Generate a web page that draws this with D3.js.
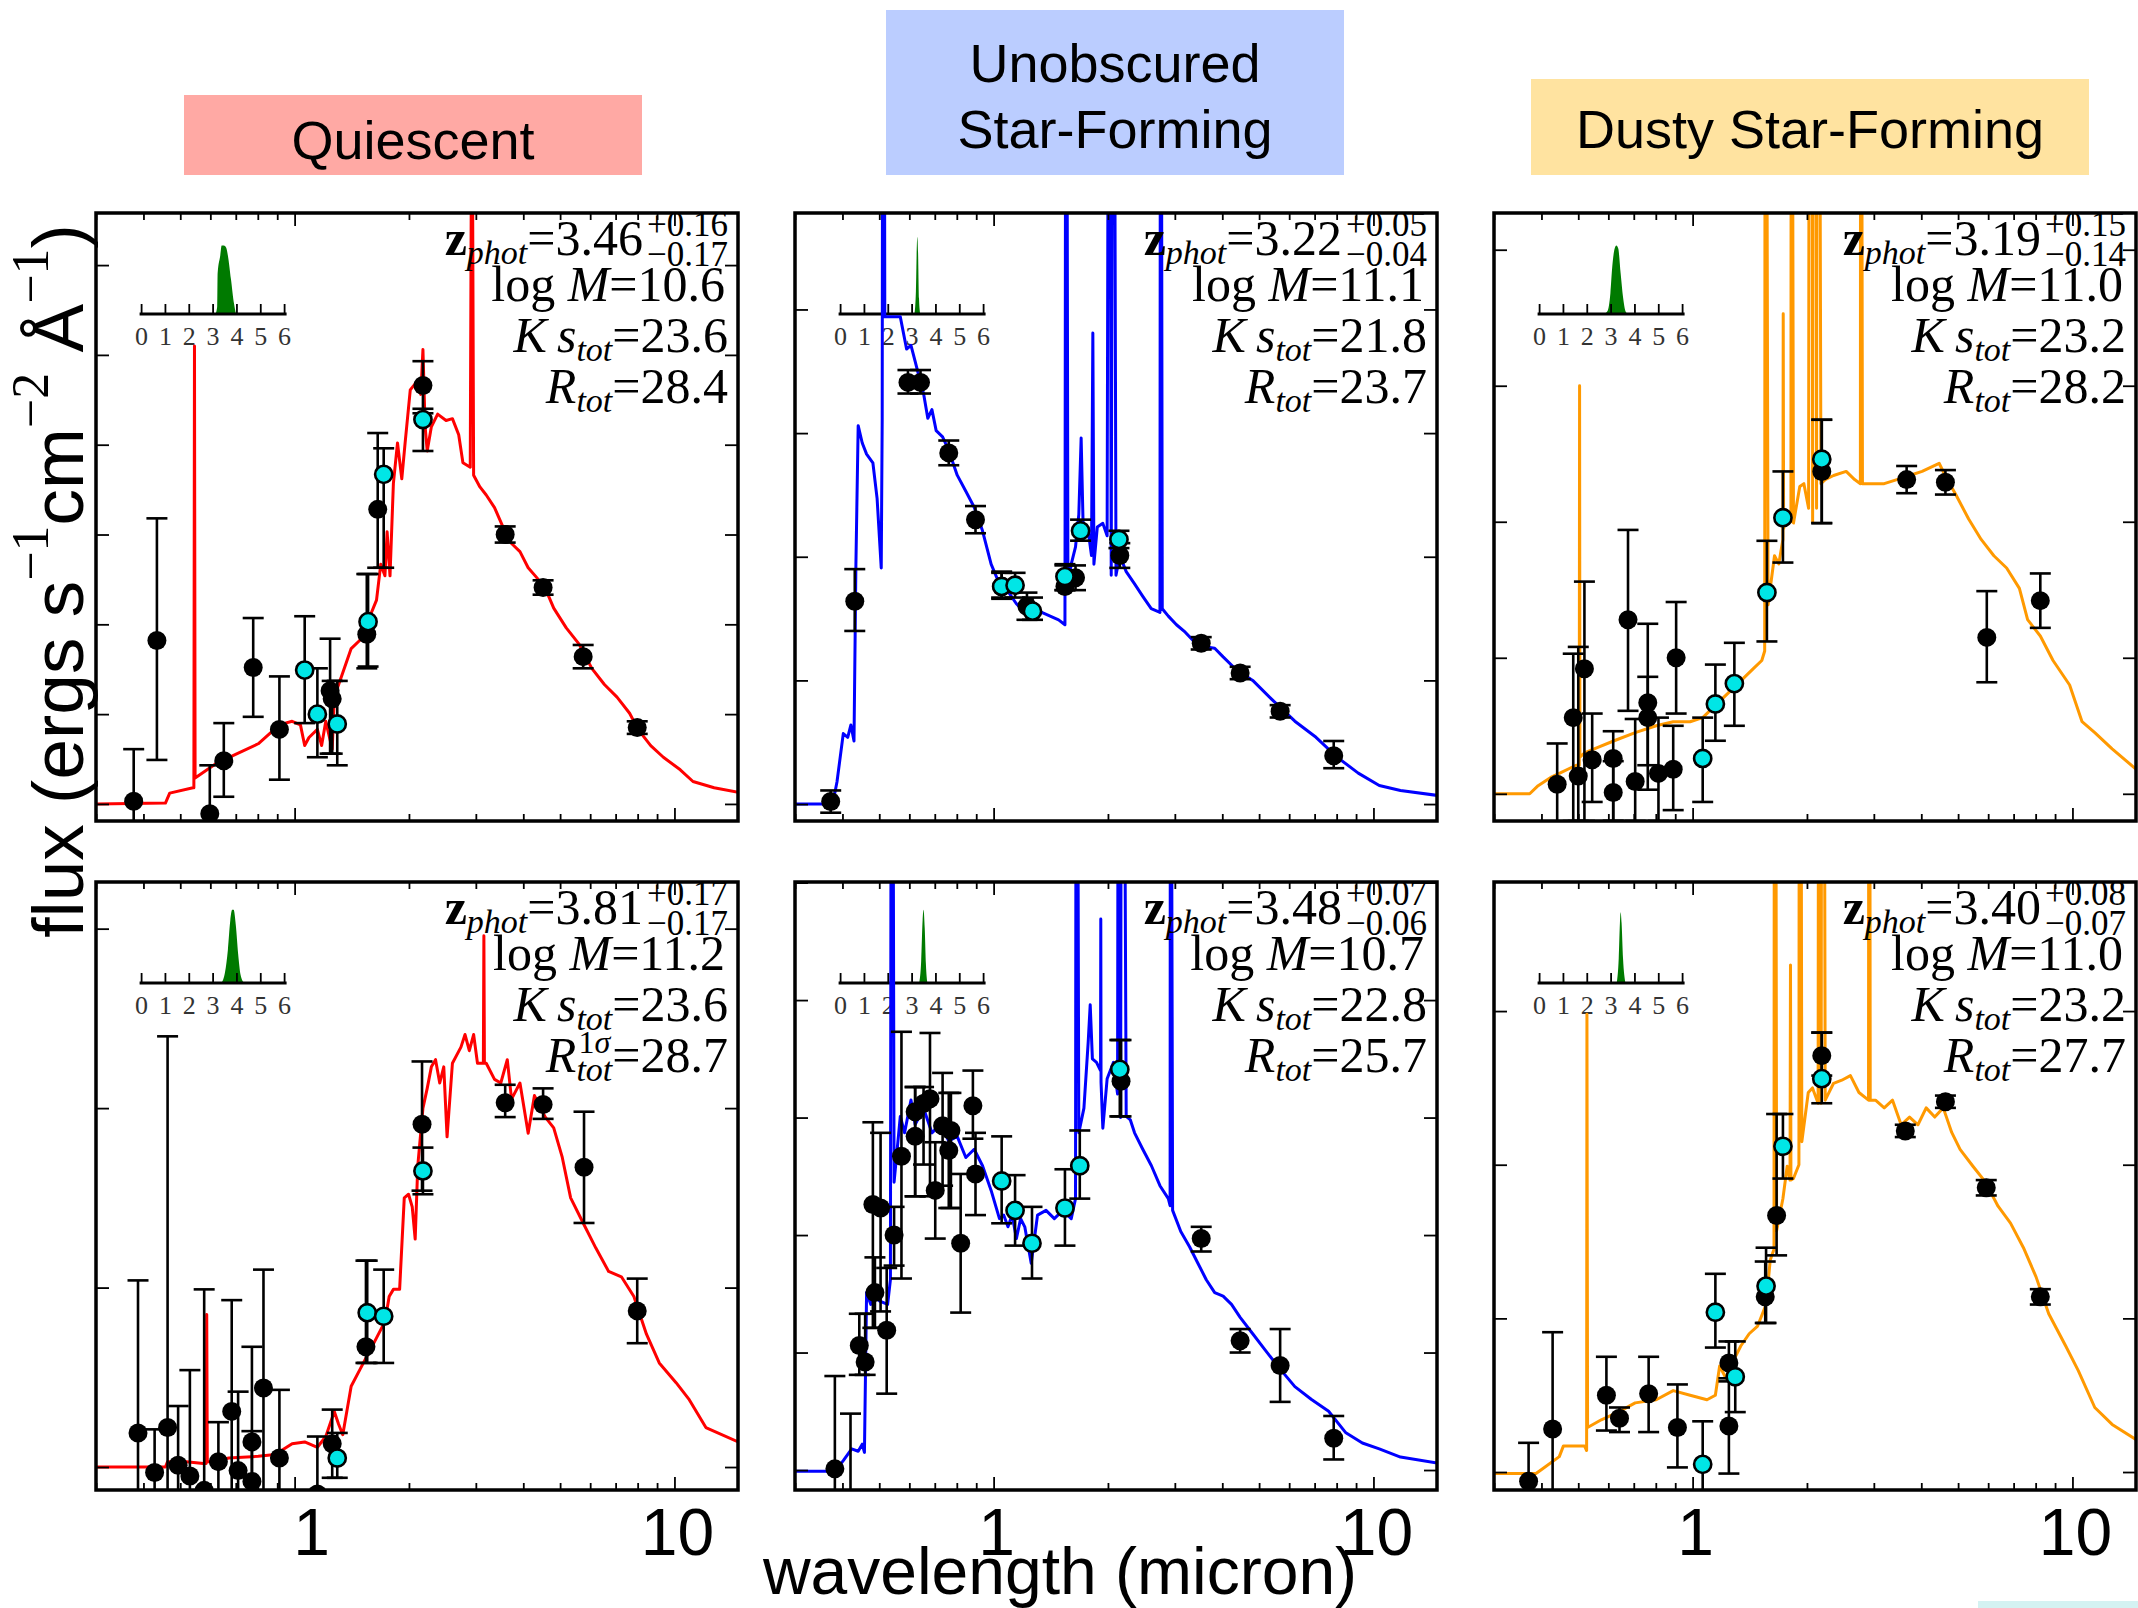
<!DOCTYPE html>
<html><head><meta charset="utf-8">
<script src="https://cdn.jsdelivr.net/npm/d3@7"></script>
<style>body{margin:0;background:#fff}svg{display:block}</style>
</head><body>
<svg id="c" width="2138" height="1608"></svg>
<script>
// ---------------- DATA ----------------
const categories = ["Quiescent", "Unobscured Star-Forming", "Dusty Star-Forming"];
const xMajorTicks = [1, 10];
const xMinorTicks = [0.3,0.4,0.5,0.6,0.7,0.8,0.9,2,3,4,5,6,7,8,9];
const insetTicks = [0,1,2,3,4,5,6];

// model SEDs: [wavelength (micron), flux (axis units)]
const model_q_top = [[0.300,0],[0.457,0.01],[0.469,0.12],[0.540,0.18],[0.543,0.18],[0.545,5.10],[0.547,0.29],[0.6215,0.45],[0.706,0.56],[0.802,0.67],[0.912,0.88],[0.985,0.92],[1.036,0.88],[1.063,0.65],[1.091,0.74],[1.148,0.83],[1.178,0.65],[1.208,0.92],[1.256,0.61],[1.272,1.19],[1.339,1.46],[1.409,1.73],[1.483,1.82],[1.561,2.04],[1.643,2.27],[1.686,2.67],[1.729,2.54],[1.752,3.03],[1.783,2.54],[1.820,3.57],[1.866,4.02],[1.915,3.62],[1.954,4.02],[2.016,4.61],[2.096,4.70],[2.149,4.56],[2.177,5.06],[2.206,4.20],[2.234,3.93],[2.291,4.20],[2.380,4.34],[2.505,4.27],[2.603,4.29],[2.704,4.11],[2.774,3.80],[2.900,3.75],[2.925,8],[2.935,8],[2.960,3.66],[3.075,3.53],[3.195,3.44],[3.36,3.30],[3.54,3.08],[3.725,2.90],[3.92,2.81],[4.12,2.63],[4.34,2.52],[4.57,2.40],[4.81,2.18],[5.19,1.96],[5.61,1.78],[6.06,1.51],[6.54,1.33],[7.06,1.19],[7.62,1.01],[8.02,0.83],[8.66,0.65],[9.35,0.52],[10.36,0.38],[11.19,0.25],[12.72,0.18],[14.72,0.13]];
const model_u_top = [[0.300,0],[0.377,0],[0.387,0.18],[0.402,0.57],[0.413,0.54],[0.421,0.64],[0.429,0.51],[0.434,1.94],[0.440,3.06],[0.451,2.92],[0.463,2.83],[0.481,2.76],[0.4935,2.47],[0.506,1.91],[0.509,3.12],[0.511,8],[0.515,8],[0.517,3.94],[0.568,3.94],[0.590,3.68],[0.606,3.71],[0.6215,3.58],[0.637,3.45],[0.654,3.32],[0.671,3.12],[0.688,3.19],[0.706,3.02],[0.734,2.97],[0.762,2.86],[0.802,2.66],[0.845,2.53],[0.889,2.40],[0.935,2.21],[0.985,1.94],[1.036,1.78],[1.091,1.72],[1.148,1.62],[1.208,1.55],[1.272,1.52],[1.339,1.55],[1.409,1.52],[1.483,1.49],[1.541,1.45],[1.550,8],[1.556,8],[1.569,1.78],[1.601,1.94],[1.643,2.08],[1.676,2.34],[1.700,2.96],[1.720,2.27],[1.774,2.21],[1.810,2.01],[1.825,3.81],[1.837,1.94],[1.875,2.24],[1.939,2.27],[1.99,2.17],[2.010,8],[2.022,8],[2.04,1.85],[2.062,8],[2.074,8],[2.10,1.85],[2.149,2.01],[2.234,1.88],[2.35,1.78],[2.47,1.68],[2.60,1.58],[2.741,1.55],[2.750,8],[2.760,8],[2.78,1.58],[2.884,1.52],[3.03,1.45],[3.195,1.39],[3.36,1.32],[3.63,1.27],[3.82,1.26],[4.02,1.19],[4.34,1.09],[4.81,1.00],[5.47,0.83],[6.21,0.67],[7.06,0.54],[8.02,0.38],[9.12,0.25],[10.36,0.15],[11.78,0.11],[14.72,0.07]];
const model_d_top = [[0.300,0],[0.3725,0],[0.392,0.06],[0.423,0.12],[0.4457,0.15],[0.4935,0.21],[0.503,0.21],[0.504,3.0],[0.505,0.27],[0.519,0.30],[0.561,0.34],[0.6215,0.39],[0.706,0.45],[0.802,0.50],[0.889,0.53],[0.985,0.53],[1.063,0.56],[1.148,0.65],[1.24,0.74],[1.339,0.83],[1.445,0.92],[1.521,0.98],[1.548,1.05],[1.553,8],[1.560,8],[1.58,1.39],[1.643,1.75],[1.686,1.69],[1.729,1.87],[1.732,3.53],[1.736,1.95],[1.774,2.05],[1.815,2.0],[1.818,8],[1.824,8],[1.843,1.99],[1.915,2.26],[1.963,2.28],[2.02,2.1],[2.03,8],[2.06,8],[2.07,2.0],[2.08,8],[2.11,8],[2.12,2.1],[2.13,8],[2.15,8],[2.177,2.28],[2.234,2.31],[2.35,2.34],[2.537,2.37],[2.67,2.31],[2.765,2.28],[2.770,8],[2.778,8],[2.80,2.28],[2.884,2.28],[3.195,2.28],[3.45,2.31],[3.725,2.34],[4.02,2.37],[4.457,2.43],[4.68,2.31],[4.93,2.20],[5.33,2.02],[5.75,1.87],[6.21,1.75],[6.71,1.66],[7.25,1.51],[7.62,1.28],[8.23,1.16],[8.89,0.98],[9.83,0.80],[10.6,0.53],[11.45,0.45],[12.72,0.33],[14.72,0.18]];
const model_q_bot = [[0.300,0],[0.457,0],[0.463,0.03],[0.519,0.03],[0.575,0.02],[0.585,0.02],[0.587,0.85],[0.589,0.03],[0.606,0.03],[0.671,0.05],[0.802,0.06],[0.889,0.07],[0.985,0.13],[1.063,0.14],[1.148,0.11],[1.208,0.17],[1.272,0.31],[1.305,0.24],[1.339,0.18],[1.409,0.45],[1.483,0.54],[1.561,0.63],[1.643,0.72],[1.729,0.81],[1.774,0.95],[1.82,0.99],[1.89,0.99],[1.944,1.50],[1.995,1.52],[2.04,1.45],[2.077,1.27],[2.11,1.68],[2.177,2.0],[2.234,2.11],[2.291,2.23],[2.35,2.27],[2.41,2.14],[2.47,2.23],[2.52,1.84],[2.603,2.25],[2.741,2.34],[2.81,2.41],[2.884,2.32],[2.96,2.41],[3.03,2.25],[3.14,2.25],[3.15,2.96],[3.16,2.25],[3.195,2.25],[3.36,2.16],[3.49,2.14],[3.63,2.27],[3.725,2.05],[3.92,2.14],[4.12,1.86],[4.28,2.07],[4.57,1.95],[4.81,1.89],[5.06,1.73],[5.33,1.50],[5.75,1.36],[6.21,1.22],[6.71,1.09],[7.25,1.06],[7.82,0.95],[8.44,0.74],[9.12,0.58],[10.1,0.47],[10.9,0.38],[12.1,0.22],[14.72,0.14]];
const model_u_bot = [[0.300,-0.01],[0.382,-0.01],[0.402,0.08],[0.423,0.18],[0.44,0.16],[0.451,0.22],[0.457,0.15],[0.463,1.51],[0.475,1.41],[0.487,1.55],[0.50,1.44],[0.526,1.41],[0.535,1.62],[0.538,8],[0.542,8],[0.547,2.45],[0.568,3.01],[0.583,2.87],[0.606,3.15],[0.6215,2.94],[0.654,3.08],[0.688,2.87],[0.724,2.94],[0.762,2.80],[0.802,2.84],[0.845,2.66],[0.889,2.73],[0.935,2.59],[0.985,2.38],[1.036,2.14],[1.063,2.17],[1.091,2.07],[1.119,2.17],[1.148,1.97],[1.178,2.14],[1.208,2.07],[1.256,1.76],[1.305,2.17],[1.374,2.21],[1.445,2.14],[1.521,2.21],[1.601,2.14],[1.643,2.31],[1.650,8],[1.660,8],[1.676,2.87],[1.729,3.08],[1.774,3.64],[1.796,3.96],[1.82,3.50],[1.866,3.47],[1.912,3.4],[1.915,4.69],[1.918,3.3],[1.939,2.91],[1.99,3.33],[2.068,3.47],[2.12,3.2],[2.13,8],[2.15,8],[2.16,3.0],[2.17,8],[2.20,8],[2.234,3.01],[2.291,2.98],[2.35,2.87],[2.47,2.73],[2.603,2.59],[2.741,2.42],[2.884,2.31],[2.915,2.25],[2.920,8],[2.930,8],[2.96,2.21],[3.11,2.03],[3.28,1.90],[3.45,1.76],[3.63,1.62],[3.82,1.51],[4.02,1.48],[4.23,1.41],[4.457,1.30],[4.81,1.16],[5.19,1.02],[5.61,0.88],[6.21,0.71],[6.87,0.60],[7.62,0.50],[8.44,0.32],[9.35,0.23],[10.36,0.18],[11.78,0.11],[14.72,0.06]];
const model_d_bot = [[0.300,-0.01],[0.387,-0.01],[0.402,0.02],[0.4457,0.10],[0.457,0.17],[0.519,0.17],[0.526,0.14],[0.527,2.98],[0.529,0.29],[0.575,0.34],[0.637,0.39],[0.706,0.45],[0.802,0.47],[0.889,0.53],[0.985,0.50],[1.091,0.47],[1.148,0.50],[1.178,0.69],[1.224,0.61],[1.272,0.71],[1.339,0.82],[1.409,0.90],[1.483,0.95],[1.561,1.09],[1.601,1.38],[1.638,1.45],[1.643,8],[1.650,8],[1.664,1.57],[1.729,1.78],[1.774,1.99],[1.805,1.9],[1.810,3.3],[1.815,1.9],[1.843,1.91],[1.905,2.0],[1.912,8],[1.920,8],[1.939,2.15],[2.016,2.47],[2.068,2.50],[2.14,2.4],[2.15,8],[2.17,8],[2.18,2.4],[2.19,8],[2.21,8],[2.234,2.42],[2.35,2.53],[2.47,2.55],[2.603,2.58],[2.741,2.47],[2.905,2.42],[2.912,8],[2.920,8],[2.935,2.42],[3.03,2.42],[3.195,2.37],[3.36,2.42],[3.54,2.26],[3.725,2.31],[3.92,2.26],[4.12,2.37],[4.34,2.31],[4.57,2.37],[4.81,2.21],[5.06,2.10],[5.47,1.99],[5.89,1.89],[6.37,1.73],[6.87,1.62],[7.43,1.46],[8.02,1.27],[8.66,1.03],[9.60,0.82],[10.36,0.66],[11.45,0.42],[12.72,0.31],[14.72,0.21]];

// photometry: [wavelength, flux, lower, upper]
const black_q_top = [[0.377,0.03,-0.3,0.61],[0.434,1.82,0.49,3.18],[0.598,-0.11,-0.4,0.43],[0.651,0.48,0.08,0.90],[0.778,1.52,0.97,2.07],[0.912,0.83,0.27,1.42],[1.24,1.26,0.56,1.84],[1.256,1.17,0.56,1.37],[1.549,1.89,1.51,2.56],[1.655,3.28,2.63,4.13],[2.177,4.66,4.35,4.93],[3.584,3.0,2.91,3.09],[4.51,2.41,2.33,2.49],[5.75,1.64,1.51,1.77],[7.98,0.85,0.78,0.92]];
const cyan_q_top = [[1.063,1.49,0.90,2.09],[1.148,1.0,0.52,1.51],[1.295,0.89,0.43,1.37],[1.561,2.03,1.53,2.56],[1.716,3.67,2.63,3.96],[2.177,4.28,3.93,4.40]];
const black_u_top = [[0.3725,0.02,-0.07,0.11],[0.431,1.64,1.40,1.90],[0.595,3.41,3.32,3.51],[0.642,3.41,3.32,3.51],[0.762,2.84,2.74,2.94],[0.896,2.30,2.19,2.41],[1.05,1.76,1.67,1.87],[1.224,1.60,1.49,1.71],[1.541,1.76,1.73,1.93],[1.643,1.83,1.73,1.93],[2.149,2.01,1.91,2.11],[3.52,1.30,1.25,1.35],[4.457,1.06,1.01,1.11],[5.68,0.75,0.70,0.80],[7.86,0.39,0.29,0.51]];
const cyan_u_top = [[1.05,1.76,1.66,1.88],[1.139,1.77,1.67,1.87],[1.266,1.56,1.49,1.67],[1.541,1.84,1.73,1.94],[1.694,2.21,2.13,2.30],[2.138,2.14,2.07,2.21]];
const black_d_top = [[0.44,0.07,-0.3,0.37],[0.485,0.56,-0.2,1.03],[0.50,0.13,-0.2,1.08],[0.519,0.92,-0.2,1.56],[0.544,0.25,-0.06,0.59],[0.618,0.26,-0.2,0.46],[0.618,0.01,-0.2,0.24],[0.676,1.28,0.61,1.94],[0.706,0.09,-0.2,0.55],[0.762,0.67,0.21,1.25],[0.762,0.56,0.03,0.86],[0.813,0.15,-0.2,0.56],[0.889,0.18,-0.12,0.50],[0.905,1.0,0.59,1.41],[2.188,2.37,1.99,2.75],[3.66,2.31,2.21,2.41],[4.63,2.29,2.20,2.38],[5.95,1.15,0.82,1.49],[8.23,1.42,1.22,1.62]];
const cyan_d_top = [[1.063,0.26,-0.06,0.56],[1.148,0.66,0.39,0.95],[1.288,0.81,0.50,1.11],[1.569,1.48,1.12,1.86],[1.729,2.03,1.70,2.37],[2.188,2.46,1.99,2.75]];
const black_q_bot = [[0.387,0.19,-0.2,1.04],[0.428,-0.03,-0.2,0.21],[0.463,0.22,-0.2,2.40],[0.4935,0.01,-0.2,0.34],[0.53,-0.05,-0.2,0.54],[0.578,-0.13,-0.2,0.99],[0.63,0.03,-0.2,0.25],[0.683,0.31,-0.2,0.93],[0.71,-0.02,-0.2,0.42],[0.772,0.14,-0.2,0.67],[0.772,-0.08,-0.2,0.2],[0.828,0.44,-0.2,1.10],[0.912,0.05,-0.2,0.43],[1.148,-0.15,-0.3,0.17],[1.256,0.13,-0.06,0.32],[1.541,0.67,0.58,1.15],[2.165,1.91,1.54,2.26],[3.584,2.03,1.95,2.13],[4.51,2.02,1.94,2.11],[5.78,1.67,1.36,1.98],[7.98,0.87,0.69,1.05]];
const cyan_q_bot = [[1.295,0.05,-0.06,0.19],[1.553,0.86,0.58,1.15],[1.716,0.84,0.58,1.10],[2.177,1.65,1.52,1.78]];
const black_u_bot = [[0.382,0.01,-0.2,0.80],[0.42,-0.3,-0.5,0.48],[0.443,1.06,0.81,1.33],[0.459,0.92,0.81,1.33],[0.481,2.26,1.21,2.96],[0.504,2.23,1.35,2.87],[0.487,1.51,1.21,1.81],[0.523,1.19,0.65,1.72],[0.547,2.0,1.74,2.24],[0.572,2.67,1.63,3.73],[0.6215,3.05,2.33,3.26],[0.6215,2.84,2.33,3.26],[0.654,3.12,2.60,3.26],[0.68,3.16,2.33,3.72],[0.702,2.38,1.97,2.79],[0.734,2.93,2.42,3.38],[0.772,2.89,2.23,3.21],[0.762,2.72,2.23,3.21],[0.819,1.93,1.34,2.52],[0.882,3.10,2.82,3.40],[0.896,2.52,2.17,2.87],[2.165,3.31,3.01,3.66],[3.52,1.97,1.86,2.07],[4.457,1.10,1.00,1.20],[5.68,0.89,0.58,1.20],[7.86,0.27,0.09,0.46]];
const cyan_u_bot = [[1.05,2.46,2.10,2.84],[1.139,2.21,1.91,2.51],[1.262,1.93,1.63,2.24],[1.541,2.23,1.91,2.56],[1.686,2.59,2.31,2.89],[2.149,3.41,3.01,3.66]];
const black_d_bot = [[0.37,-0.06,-0.2,0.19],[0.428,0.28,-0.2,0.91],[0.593,0.50,0.27,0.75],[0.642,0.35,0.26,0.42],[0.766,0.51,0.26,0.75],[0.912,0.29,0.03,0.57],[1.246,0.30,-0.01,0.61],[1.246,0.71,0.59,0.85],[1.553,1.14,0.97,1.37],[1.664,1.67,1.41,2.33],[2.188,2.71,2.58,2.86],[3.63,2.22,2.18,2.26],[4.63,2.41,2.37,2.45],[5.93,1.85,1.80,1.90],[8.23,1.14,1.09,1.19]];
const cyan_d_bot = [[1.063,0.05,-0.2,0.33],[1.148,1.04,0.81,1.29],[1.295,0.62,0.39,0.85],[1.561,1.21,0.97,1.46],[1.729,2.12,1.91,2.33],[2.188,2.56,2.40,2.86]];

// photometric-redshift PDFs: [z, relative probability]
const pdf_q_top = [[3.10,0],[3.17,0.09],[3.19,0.53],[3.30,0.76],[3.36,0.89],[3.45,0.89],[3.55,0.86],[3.62,0.76],[3.75,0.45],[3.88,0.13],[3.96,0]];
const pdf_u_top = [[3.10,0],[3.16,0.3],[3.20,0.9],[3.22,1.0],[3.25,0.8],[3.29,0.2],[3.34,0]];
const pdf_d_top = [[2.70,0],[2.85,0.04],[2.97,0.27],[3.05,0.62],[3.15,0.85],[3.22,0.89],[3.30,0.85],[3.40,0.53],[3.50,0.22],[3.60,0.04],[3.70,0]];
const pdf_q_bot = [[3.35,0],[3.50,0.14],[3.62,0.43],[3.72,0.81],[3.80,0.95],[3.86,0.95],[3.95,0.76],[4.05,0.38],[4.15,0.11],[4.30,0]];
const pdf_u_bot = [[3.30,0],[3.38,0.28],[3.44,0.81],[3.48,0.95],[3.53,0.71],[3.58,0.24],[3.64,0]];
const pdf_d_bot = [[3.24,0],[3.32,0.32],[3.37,0.78],[3.40,0.92],[3.44,0.78],[3.50,0.32],[3.60,0]];

// annotations: z, +err, -err, logM, Ks, R
const info_q_top = ["3.46","+0.16","\u22120.17","10.6","23.6","28.4"];
const info_u_top = ["3.22","+0.05","\u22120.04","11.1","21.8","23.7"];
const info_d_top = ["3.19","+0.15","\u22120.14","11.0","23.2","28.2"];
const info_q_bot = ["3.81","+0.17","\u22120.17","11.2","23.6","28.7"];
const info_u_bot = ["3.48","+0.07","\u22120.06","10.7","22.8","25.7"];
const info_d_bot = ["3.40","+0.08","\u22120.07","11.0","23.2","27.7"];

// ---------------- LAYOUT ----------------
const svg = d3.select("#c");
const SANS = "'Liberation Sans', Arial, Helvetica, sans-serif";
const SERIF = "'Liberation Serif', 'Times New Roman', serif";
const panelX = [96, 795, 1494], panelY = [213, 882], PW = 642, PH = 608;
const xDomain = [0.3, 14.7];
const lineColors = ["#ff0000", "#0000ff", "#ff9900"];

const panels = [
  {col:0,row:0,model:model_q_top,black:black_q_top,cyan:cyan_q_top,pdf:pdf_q_top,info:info_q_top,yDom:[-0.19,6.58]},
  {col:1,row:0,model:model_u_top,black:black_u_top,cyan:cyan_u_top,pdf:pdf_u_top,info:info_u_top,yDom:[-0.137,4.78]},
  {col:2,row:0,model:model_d_top,black:black_d_top,cyan:cyan_d_top,pdf:pdf_d_top,info:info_d_top,yDom:[-0.2,4.27]},
  {col:0,row:1,model:model_q_bot,black:black_q_bot,cyan:cyan_q_bot,pdf:pdf_q_bot,info:info_q_bot,yDom:[-0.128,3.26],sigma:true},
  {col:1,row:1,model:model_u_bot,black:black_u_bot,cyan:cyan_u_bot,pdf:pdf_u_bot,info:info_u_bot,yDom:[-0.17,5.005]},
  {col:2,row:1,model:model_d_bot,black:black_d_bot,cyan:cyan_d_bot,pdf:pdf_d_bot,info:info_d_bot,yDom:[-0.117,3.84]}
];

// header boxes
const boxes = [
  {x:184,y:95,w:458,h:80,fill:"#ffa9a4",lines:[categories[0]],base:[159]},
  {x:886,y:10,w:458,h:165,fill:"#bbcdff",lines:["Unobscured","Star-Forming"],base:[82,148]},
  {x:1531,y:79,w:558,h:96,fill:"#ffe3a0",lines:[categories[2]],base:[148]}
];
boxes.forEach((b,i) => {
  svg.append("rect").attr("x",b.x).attr("y",b.y).attr("width",b.w).attr("height",b.h).attr("fill",b.fill);
  b.lines.forEach((l,j) => {
    svg.append("text").attr("x",b.x+b.w/2).attr("y",b.base[j]).attr("text-anchor","middle")
      .style("font-family",SANS).style("font-size","54px").attr("fill","#000").text(l);
  });
});

function rich(g, x, y, parts, anchor, size) {
  const t = g.append("text").attr("x",x).attr("y",y).attr("text-anchor",anchor)
    .style("font-family",SERIF).style("font-size",size+"px").attr("fill","#000");
  let cur = 0;
  parts.forEach(p => {
    const sh = p.sh || 0;
    const ts = t.append("tspan").attr("dy", sh - cur).text(p.t);
    cur = sh;
    if (p.i) ts.style("font-style","italic");
    if (p.b) ts.style("font-weight","bold");
    if (p.s) ts.style("font-size",p.s+"px");
  });
  return t;
}

panels.forEach((p, idx) => {
  const x0 = panelX[p.col], y0 = panelY[p.row];
  const color = lineColors[p.col];
  const x = d3.scaleLog().domain(xDomain).range([x0, x0+PW]);
  const y = d3.scaleLinear().domain(p.yDom).range([y0+PH, y0]);
  const g = svg.append("g");
  const cid = "clip"+idx;
  svg.append("clipPath").attr("id",cid).append("rect").attr("x",x0).attr("y",y0).attr("width",PW).attr("height",PH);
  const gc = g.append("g").attr("clip-path",`url(#${cid})`);

  // inset redshift PDF
  const zx = d3.scaleLinear().domain([0,6]).range([x0+45.6, x0+188.6]);
  const iy0 = y0 + 101;
  const zy = d3.scaleLinear().domain([0,1]).range([iy0, iy0-77]);
  const gi = gc.append("g");
  gi.append("path").datum(p.pdf)
    .attr("d", d3.area().x(d=>zx(d[0])).y0(iy0).y1(d=>zy(d[1])).curve(d3.curveMonotoneX))
    .attr("fill","#007a00");
  gi.selectAll("line.it").data(insetTicks).join("line")
    .attr("x1",d=>zx(d)).attr("x2",d=>zx(d)).attr("y1",iy0).attr("y2",iy0-10)
    .attr("stroke","#000").attr("stroke-width",1.8);
  gi.append("line").attr("x1",zx(0)-2).attr("x2",zx(6)+2).attr("y1",iy0).attr("y2",iy0)
    .attr("stroke","#000").attr("stroke-width",3);
  gi.selectAll("text").data(insetTicks).join("text")
    .attr("x",d=>zx(d)).attr("y",iy0+31).attr("text-anchor","middle")
    .style("font-family",SERIF).style("font-size","26px").attr("fill","#333").text(d=>d);

  // model
  gc.append("path").datum(p.model)
    .attr("d", d3.line().x(d=>x(d[0])).y(d=>y(d[1])))
    .attr("fill","none").attr("stroke",color).attr("stroke-width",3).attr("stroke-linejoin","round");

  // error bars
  const pts = p.black.concat(p.cyan);
  const eb = gc.append("g").attr("stroke","#000").attr("stroke-width",2.6);
  pts.forEach(d => {
    const cx = x(d[0]);
    eb.append("line").attr("x1",cx).attr("x2",cx).attr("y1",y(d[2])).attr("y2",y(d[3]));
    [d[2], d[3]].forEach(v => eb.append("line").attr("x1",cx-10.5).attr("x2",cx+10.5).attr("y1",y(v)).attr("y2",y(v)));
  });
  gc.append("g").selectAll("circle").data(p.black).join("circle")
    .attr("cx",d=>x(d[0])).attr("cy",d=>y(d[1])).attr("r",9.5).attr("fill","#000");
  gc.append("g").selectAll("circle").data(p.cyan).join("circle")
    .attr("cx",d=>x(d[0])).attr("cy",d=>y(d[1])).attr("r",8.6).attr("fill","#00e6e6")
    .attr("stroke","#000").attr("stroke-width",2.6);

  // ticks (inward, all sides)
  const yTicks = d3.range(Math.ceil(p.yDom[0]), Math.floor(p.yDom[1])+1);
  const addAxis = (gen, tx, ty) => {
    const a = g.append("g").attr("transform",`translate(${tx},${ty})`).call(gen);
    a.select(".domain").remove();
    a.selectAll("line").attr("stroke-width",1.8);
    a.selectAll("text").remove();
  };
  addAxis(d3.axisBottom(x).tickValues(xMajorTicks).tickSize(-13).tickFormat(""), 0, y0+PH);
  addAxis(d3.axisBottom(x).tickValues(xMinorTicks).tickSize(-7).tickFormat(""), 0, y0+PH);
  addAxis(d3.axisTop(x).tickValues(xMajorTicks).tickSize(-13).tickFormat(""), 0, y0);
  addAxis(d3.axisTop(x).tickValues(xMinorTicks).tickSize(-7).tickFormat(""), 0, y0);
  addAxis(d3.axisLeft(y).tickValues(yTicks).tickSize(-13).tickFormat(""), x0, 0);
  addAxis(d3.axisRight(y).tickValues(yTicks).tickSize(-13).tickFormat(""), x0+PW, 0);

  // frame
  g.append("rect").attr("x",x0).attr("y",y0).attr("width",PW).attr("height",PH)
    .attr("fill","none").attr("stroke","#000").attr("stroke-width",3.5);

  // tick labels on bottom row
  if (p.row === 1) {
    xMajorTicks.forEach(v => {
      const dx = (p.col === 0 && v === 1) ? 17 : 3;
      svg.append("text").attr("x",x(v)+dx).attr("y",1555).attr("text-anchor","middle")
        .style("font-family",SANS).style("font-size","66px").attr("fill","#000").text(v);
    });
  }

  // annotations
  const info = p.info;
  const right = x0 + 632;
  const sup = g.append("text").attr("x",right).attr("y",y0+23).attr("text-anchor","end")
    .style("font-family",SERIF).style("font-size","35px").text(info[1]);
  const sub = g.append("text").attr("x",right).attr("y",y0+53).attr("text-anchor","end")
    .style("font-family",SERIF).style("font-size","35px").text(info[2]);
  const sw = Math.max(sup.node().getComputedTextLength(), sub.node().getComputedTextLength());
  rich(g, right - sw - 4, y0+42, [{t:"z",b:true},{t:"phot",i:true,s:34,sh:9},{t:"="+info[0],sh:0}], "end", 50);
  rich(g, right - 3, y0+88, [{t:"log "},{t:"M",i:true},{t:"="+info[3]}], "end", 50);
  rich(g, right, y0+139, [{t:"K",i:true},{t:"\u2009s",i:true},{t:"tot",i:true,s:34,sh:9},{t:"="+info[4],sh:0}], "end", 50);
  const rt = rich(g, right, y0+190, [{t:"R",i:true},{t:"tot",i:true,s:34,sh:9},{t:"="+info[5],sh:0}], "end", 50);
  if (p.sigma) {
    const L = rt.node().getComputedTextLength();
    const rw = rt.node().getSubStringLength(0,1);
    g.append("text").attr("x", right - L + rw + 2).attr("y", y0+171)
      .style("font-family",SERIF).style("font-size","32px").text("1")
      .append("tspan").style("font-style","italic").text("\u03c3");
  }
});

// axis titles
svg.append("text").attr("x",1060).attr("y",1594).attr("text-anchor","middle")
  .style("font-family",SANS).style("font-size","66px").attr("fill","#000").text("wavelength (micron)");

const yl = svg.append("text").attr("transform","translate(83,581) rotate(-90)").attr("text-anchor","middle")
  .style("font-family",SANS).style("font-size","73px").attr("fill","#000");
const ylParts = [
  {t:"flux (ergs s",sh:0},{t:"\u22121",sh:-35,sup:true},{t:"cm",sh:0},{t:"\u22122",sh:-35,sup:true},
  {t:" \u00c5",sh:0},{t:"\u22121",sh:-35,sup:true},{t:")",sh:0}
];
let ycur = 0;
ylParts.forEach(pp => {
  const ts = yl.append("tspan").attr("dy", pp.sh - ycur).text(pp.t);
  ycur = pp.sh;
  if (pp.sup) ts.style("font-family",SERIF).style("font-size","52px");
});

// small light strip at bottom-right corner
svg.append("rect").attr("x",1978).attr("y",1601).attr("width",160).attr("height",7).attr("fill","#d4f2f2");
</script>
</body></html>
